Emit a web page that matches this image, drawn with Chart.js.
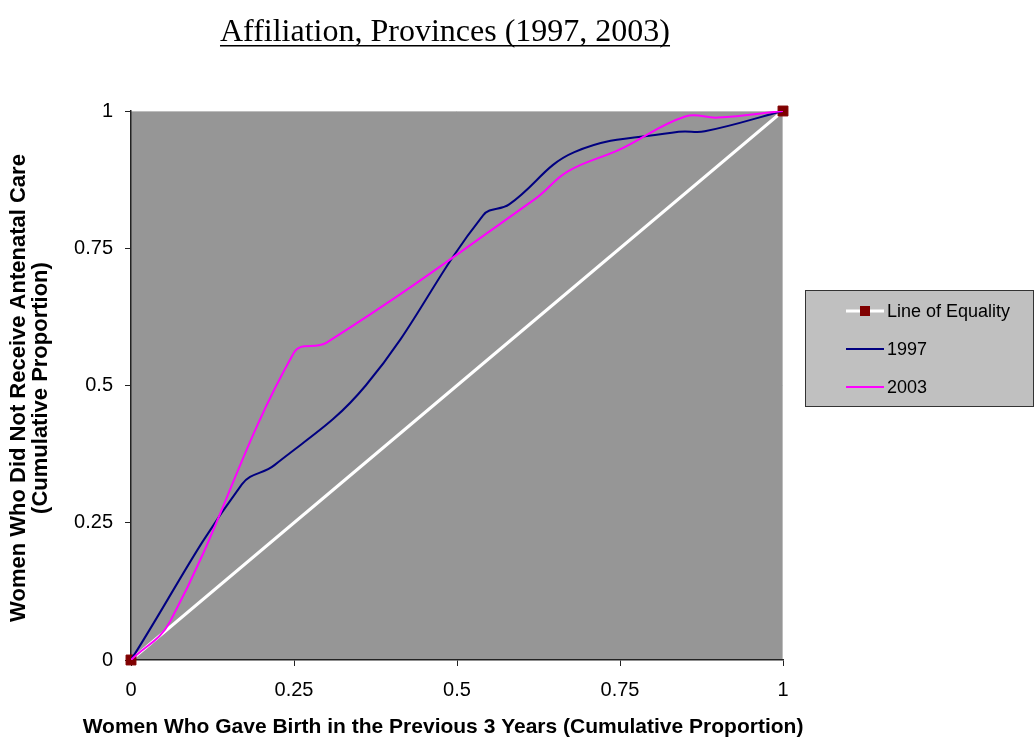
<!DOCTYPE html>
<html>
<head>
<meta charset="utf-8">
<script src="https://cdn.jsdelivr.net/npm/chart.js@4.4.0/dist/chart.umd.min.js"></script>
<style>
  html, body { margin: 0; padding: 0; background: #ffffff; }
  #wrap { width: 1035px; height: 739px; }
</style>
</head>
<body>
<div id="wrap"><canvas id="lorenz"></canvas></div>
<script>
// Chart data.
var chartTitle = "Affiliation, Provinces (1997, 2003)";
var xAxisTitle = "Women Who Gave Birth in the Previous 3 Years (Cumulative Proportion)";
var yAxisTitle = ["Women Who Did Not Receive Antenatal Care", "(Cumulative Proportion)"];
var tickValues = [0, 0.25, 0.5, 0.75, 1];
var tickLabels = ["0", "0.25", "0.5", "0.75", "1"];
var seriesNames = ["Line of Equality", "1997", "2003"];

var equalityX = [0, 1];
var equalityY = [0, 1];

var x1997 = [0, 0.17, 0.22, 0.36, 0.54, 0.58, 0.68, 0.84, 0.88, 1];
var y1997 = [0, 0.32, 0.355, 0.50, 0.81, 0.83, 0.925, 0.962, 0.963, 1];

var x2003 = [0, 0.06, 0.25, 0.30, 0.62, 0.67, 0.75, 0.85, 0.90, 1];
var y2003 = [0, 0.07, 0.56, 0.578, 0.84, 0.89, 0.93, 0.99, 0.988, 1];

function toPoints(xs, ys) {
  return xs.map(function (x, i) {
    return { x: x, y: ys[i] };
  });
}

// Draws the grey plot background.
var plotBackground = {
  id: "plotBackground",
  beforeDraw: function (chart) {
    var ctx = chart.ctx;
    var a = chart.chartArea;
    ctx.save();
    ctx.fillStyle = "#969696";
    ctx.fillRect(a.left, a.top, a.right - a.left, a.bottom - a.top);
    ctx.strokeStyle = "#bdbdbd";
    ctx.lineWidth = 1;
    ctx.beginPath();
    ctx.moveTo(a.left, a.top + 0.5);
    ctx.lineTo(a.right - 0.5, a.top + 0.5);
    ctx.lineTo(a.right - 0.5, a.bottom);
    ctx.stroke();
    ctx.restore();
  }
};

// Title, axis titles and the boxed legend.
var decorations = {
  id: "decorations",
  afterDraw: function (chart) {
    var ctx = chart.ctx;
    ctx.save();

    // Underlined serif title.
    ctx.fillStyle = "#000000";
    ctx.font = "32px 'Liberation Serif', 'DejaVu Serif', serif";
    ctx.textAlign = "center";
    ctx.textBaseline = "alphabetic";
    ctx.fillText(chartTitle, 445, 41);
    var w = ctx.measureText(chartTitle).width;
    ctx.fillRect(445 - w / 2, 45, w, 1.5);

    // X axis title.
    ctx.font = "bold 21px 'Liberation Sans', Arial, sans-serif";
    ctx.textBaseline = "middle";
    ctx.fillText(xAxisTitle, 443, 727);

    // Y axis title, two lines rotated.
    ctx.font = "bold 22px 'Liberation Sans', Arial, sans-serif";
    ctx.translate(0, 388);
    ctx.rotate(-Math.PI / 2);
    ctx.fillText(yAxisTitle[0], 0, 19);
    ctx.fillText(yAxisTitle[1], 0, 41);
    ctx.setTransform(1, 0, 0, 1, 0, 0);

    // Legend box.
    ctx.fillStyle = "#c0c0c0";
    ctx.fillRect(805, 290, 229, 117);
    ctx.strokeStyle = "#333333";
    ctx.lineWidth = 1;
    ctx.strokeRect(805.5, 290.5, 228, 116);

    var rows = [311, 349, 387];
    var colours = ["#ffffff", "#000080", "#ff00ff"];
    var widths = [3, 2, 2];
    ctx.font = "18px 'Liberation Sans', Arial, sans-serif";
    ctx.textAlign = "left";
    ctx.textBaseline = "middle";
    for (var i = 0; i < rows.length; i++) {
      ctx.strokeStyle = colours[i];
      ctx.lineWidth = widths[i];
      ctx.beginPath();
      ctx.moveTo(846, rows[i]);
      ctx.lineTo(884, rows[i]);
      ctx.stroke();
      if (i === 0) {
        ctx.fillStyle = "#800000";
        ctx.fillRect(860, rows[i] - 5, 10, 10);
      }
      ctx.fillStyle = "#000000";
      ctx.fillText(seriesNames[i], 887, rows[i] + 1);
    }
    ctx.restore();
  }
};

var ctx = document.querySelector("#lorenz").getContext("2d");
var chart = new Chart(ctx, {
  type: "scatter",
  data: {
    datasets: [{
      label: seriesNames[0],
      data: toPoints(equalityX, equalityY),
      showLine: true,
      clip: false,
      borderColor: "#ffffff",
      borderWidth: 3,
      pointStyle: "rect",
      pointRadius: 7,
      pointBackgroundColor: "#800000",
      pointBorderColor: "#800000",
      pointBorderWidth: 1,
      order: 3
    }, {
      label: seriesNames[1],
      data: toPoints(x1997, y1997),
      showLine: true,
      borderColor: "#000080",
      borderWidth: 2,
      pointRadius: 0,
      tension: 0.4,
      order: 2
    }, {
      label: seriesNames[2],
      data: toPoints(x2003, y2003),
      showLine: true,
      borderColor: "#ff00ff",
      borderWidth: 2,
      pointRadius: 0,
      tension: 0.4,
      order: 1
    }]
  },
  options: {
    responsive: true,
    maintainAspectRatio: false,
    animation: false,
    events: [],
    layout: {
      padding: { left: 0, top: 111, right: 252, bottom: 0 }
    },
    plugins: {
      legend: { display: false },
      title: { display: false },
      tooltip: { enabled: false }
    },
    scales: {
      x: {
        type: "linear",
        min: 0,
        max: 1,
        afterBuildTicks: function (scale) {
          scale.ticks = tickValues.map(function (v) { return { value: v }; });
        },
        afterFit: function (scale) { scale.height = 79; },
        border: { display: true, color: "#222222", width: 1.5 },
        grid: { display: true, drawOnChartArea: false, drawTicks: true, tickLength: 6, color: "#222222" },
        ticks: {
          color: "#000000",
          padding: 12,
          font: { family: "'Liberation Sans', Arial, sans-serif", size: 20 },
          callback: function (value) { return tickLabels[tickValues.indexOf(value)]; }
        }
      },
      y: {
        type: "linear",
        min: 0,
        max: 1,
        afterBuildTicks: function (scale) {
          scale.ticks = tickValues.map(function (v) { return { value: v }; });
        },
        afterFit: function (scale) { scale.width = 131; },
        border: { display: true, color: "#222222", width: 1.5 },
        grid: { display: true, drawOnChartArea: false, drawTicks: true, tickLength: 6, color: "#222222" },
        ticks: {
          color: "#000000",
          padding: 12,
          font: { family: "'Liberation Sans', Arial, sans-serif", size: 20 },
          callback: function (value) { return tickLabels[tickValues.indexOf(value)]; }
        }
      }
    }
  },
  plugins: [plotBackground, decorations]
});
</script>
</body>
</html>
